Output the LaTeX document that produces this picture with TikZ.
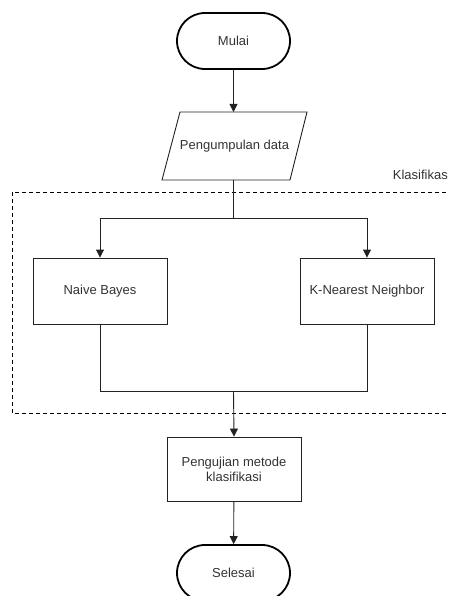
\documentclass[tikz,border=0pt]{standalone}
\usepackage{fontspec}
\setmainfont{Liberation Sans}
\usetikzlibrary{arrows.meta,shapes.geometric}
\definecolor{txt}{HTML}{333333}
\definecolor{ln}{HTML}{222222}
\tikzset{
  x=1pt,y=-1pt,
  every node/.style={font=\fontsize{13}{15}\selectfont,text=txt},
  term/.style={draw=black,line width=1.8pt,rounded corners=28pt,minimum width=113pt,minimum height=56pt,inner sep=0pt},
  procbox/.style={draw=ln,line width=0.9pt,minimum width=134pt,minimum height=66pt,inner sep=0pt,align=center},
  conn/.style={draw=ln,line width=0.9pt},
  arr/.style={conn,-{Triangle[length=8pt,width=8pt]}},
  grp/.style={draw=black,line width=0.9pt,dash pattern=on 4pt off 3pt}
}
\begin{document}
\begin{tikzpicture}
\useasboundingbox (0,0) rectangle (449,596);
\clip (0,0) rectangle (449,596);
\fill[white] (0,0) rectangle (449,596);
% group box
\draw[grp] (12,192) rectangle (470,413);
\node[anchor=south east,inner sep=0pt] (klas) at (448,180) {Klasifikas};
% nodes
\node[term] (mulai) at (233.5,41) {Mulai};
\draw[line width=0.9pt,draw=ln] (180,112) -- (307,112) -- (290,180) -- (162,180) -- cycle;
\node[inner sep=0pt] (peng) at (234.5,146) {Pengumpulan data};
\coordinate (pengt) at (233.5,112);
\coordinate (pengb) at (233.5,180);
\node[procbox] (nb) at (100,291) {Naive Bayes};
\node[procbox] (knn) at (367,291) {K-Nearest Neighbor};
\node[procbox,minimum height=64pt] (uji) at (234,469) {Pengujian metode\\klasifikasi};
\node[term] (selesai) at (233.5,573) {Selesai};
% connectors
\coordinate (split) at (233.5,218);
\coordinate (join) at (233.5,391);
\draw[arr] (mulai) -- (pengt);
\draw[conn] (pengb) -- (split);
\draw[arr] (split) -| (nb.north);
\draw[arr] (split) -| (knn.north);
\draw[conn] (nb.south) |- (join);
\draw[conn] (knn.south) |- (join);
\draw[arr] (join) -- (uji.north);
\draw[arr] (uji) -- (selesai);
\end{tikzpicture}
\end{document}
